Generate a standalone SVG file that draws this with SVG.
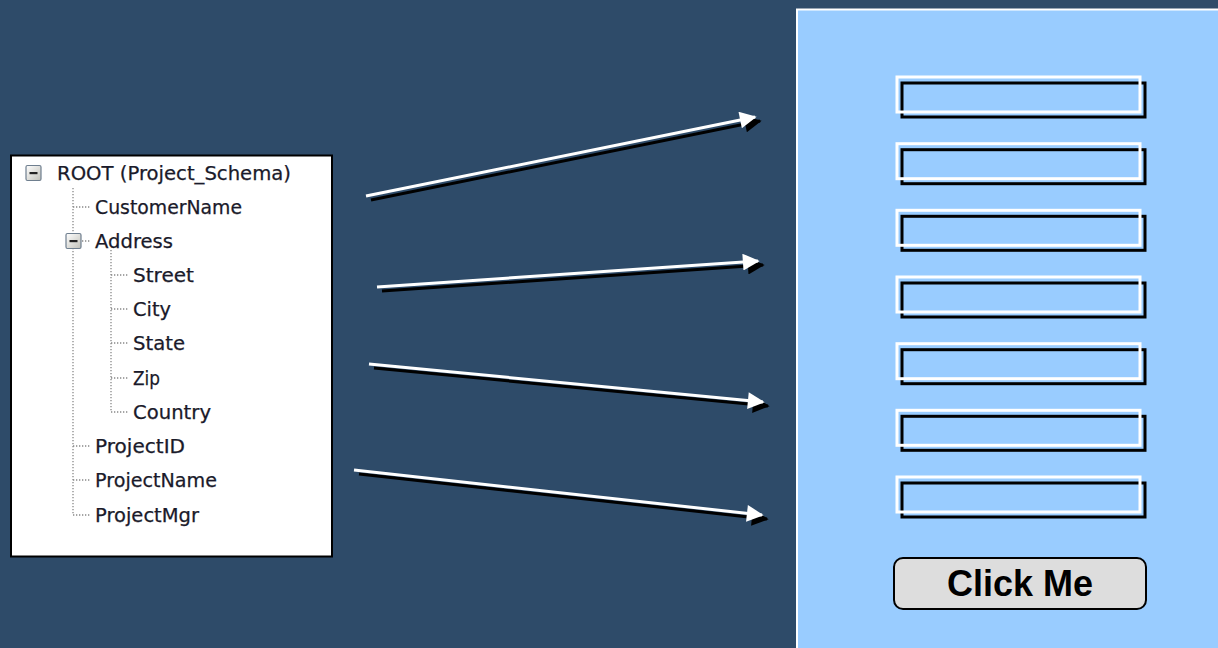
<svg xmlns="http://www.w3.org/2000/svg" width="1218" height="648" viewBox="0 0 1218 648">
<style>
.tree{font-family:Tahoma,"DejaVu Sans","Liberation Sans",sans-serif;font-size:19.5px;fill:#1a1a2a;stroke:#1a1a2a;stroke-width:0.25;}
.dot{stroke:#888;stroke-width:1.3;stroke-dasharray:1.3 1.7;fill:none;}
.inW{fill:none;stroke:#fff;stroke-width:3;}
.inB{fill:none;stroke:#000;stroke-width:3;}
.ln{stroke:#fff;stroke-width:3;fill:none;}
.sh{stroke:#000;stroke-width:3;fill:none;}
</style>
<defs>
<marker id="aw" viewBox="0 0 10 10" refX="9" refY="5" markerWidth="7" markerHeight="5.6" orient="auto" markerUnits="strokeWidth"><path d="M0,0 L10,5 L0,10 z" fill="#fff"/></marker>
<marker id="ab" viewBox="0 0 10 10" refX="9" refY="5" markerWidth="7" markerHeight="5.6" orient="auto" markerUnits="strokeWidth"><path d="M0,0 L10,5 L0,10 z" fill="#000"/></marker>
<linearGradient id="exg" x1="0" y1="0" x2="1" y2="1"><stop offset="0" stop-color="#fff"/><stop offset="1" stop-color="#c0c0b8"/></linearGradient>
<g id="exp"><rect x="0" y="0" width="15" height="15" rx="1.5" fill="url(#exg)" stroke="#6f7f8f" stroke-width="1.2"/><rect x="3.5" y="6.5" width="8" height="2.2" fill="#222"/></g>
</defs>
<rect width="1218" height="648" fill="#2E4B69"/>

<g id="tree">
<rect x="11" y="155.5" width="321" height="401" fill="#fff" stroke="#000" stroke-width="2"/>
<path class="dot" d="M73,188 V515 M73,207 H90 M82,241 H90 M73,446 H90 M73,480 H90 M73,515 H90 M111,250 V412 M111,275 H128 M111,309 H128 M111,343 H128 M111,378 H128 M111,412 H128"/>
<use href="#exp" x="26" y="165.5"/>
<use href="#exp" x="66" y="233.5"/>
<text class="tree" x="57" y="180" textLength="234" lengthAdjust="spacingAndGlyphs">ROOT (Project_Schema)</text>
<text class="tree" x="95" y="214" textLength="147" lengthAdjust="spacingAndGlyphs">CustomerName</text>
<text class="tree" x="95" y="248" textLength="78" lengthAdjust="spacingAndGlyphs">Address</text>
<text class="tree" x="133" y="282" textLength="61" lengthAdjust="spacingAndGlyphs">Street</text>
<text class="tree" x="133" y="316" textLength="38" lengthAdjust="spacingAndGlyphs">City</text>
<text class="tree" x="133" y="350" textLength="52" lengthAdjust="spacingAndGlyphs">State</text>
<text class="tree" x="133" y="385" textLength="27" lengthAdjust="spacingAndGlyphs">Zip</text>
<text class="tree" x="133" y="419" textLength="78" lengthAdjust="spacingAndGlyphs">Country</text>
<text class="tree" x="95" y="453" textLength="90" lengthAdjust="spacingAndGlyphs">ProjectID</text>
<text class="tree" x="95" y="487" textLength="122" lengthAdjust="spacingAndGlyphs">ProjectName</text>
<text class="tree" x="95" y="522" textLength="104" lengthAdjust="spacingAndGlyphs">ProjectMgr</text>
</g>

<g id="connectors">
<line class="sh" x1="371" y1="200" x2="760" y2="121" marker-end="url(#ab)"/>
<line class="ln" x1="366" y1="196" x2="755" y2="117" marker-end="url(#aw)"/>
<line class="sh" x1="382" y1="291" x2="763" y2="265" marker-end="url(#ab)"/>
<line class="ln" x1="377" y1="287" x2="758" y2="261" marker-end="url(#aw)"/>
<line class="sh" x1="374" y1="368" x2="768" y2="406" marker-end="url(#ab)"/>
<line class="ln" x1="369" y1="364" x2="763" y2="402" marker-end="url(#aw)"/>
<line class="sh" x1="359" y1="474" x2="767" y2="519" marker-end="url(#ab)"/>
<line class="ln" x1="354" y1="470" x2="762" y2="515" marker-end="url(#aw)"/>
</g>

<g id="form">
<rect x="797" y="9.5" width="430" height="650" fill="#99CCFF" stroke="#fff" stroke-width="2"/>
<g id="fields">
<rect class="inB" x="902" y="83" width="243" height="34"/><rect class="inW" x="897" y="77" width="243" height="35"/>
<rect class="inB" x="902" y="149.7" width="243" height="34"/><rect class="inW" x="897" y="143.7" width="243" height="35"/>
<rect class="inB" x="902" y="216.3" width="243" height="34"/><rect class="inW" x="897" y="210.3" width="243" height="35"/>
<rect class="inB" x="902" y="283" width="243" height="34"/><rect class="inW" x="897" y="277" width="243" height="35"/>
<rect class="inB" x="902" y="349.7" width="243" height="34"/><rect class="inW" x="897" y="343.7" width="243" height="35"/>
<rect class="inB" x="902" y="416.3" width="243" height="34"/><rect class="inW" x="897" y="410.3" width="243" height="35"/>
<rect class="inB" x="902" y="483" width="243" height="34"/><rect class="inW" x="897" y="477" width="243" height="35"/>
</g>
<g id="button">
<rect x="894" y="558" width="252" height="51" rx="9" fill="#DDDDDD" stroke="#000" stroke-width="2"/>
<text x="1020" y="595.5" text-anchor="middle" font-family="Liberation Sans, Arial, sans-serif" font-weight="bold" font-size="36" fill="#000">Click Me</text>
</g>
</g>
</svg>
